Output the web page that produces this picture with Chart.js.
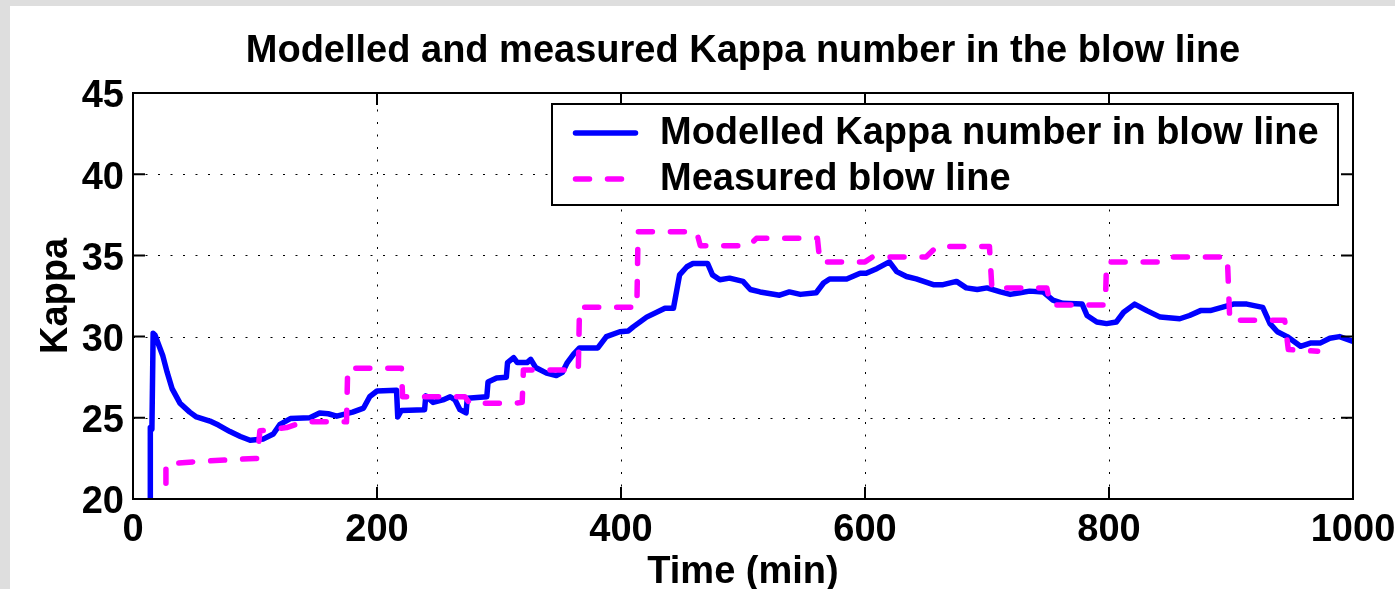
<!DOCTYPE html>
<html>
<head>
<meta charset="utf-8">
<title>Kappa number in the blow line</title>
<script src="https://cdn.jsdelivr.net/npm/chart.js@4.4.0/dist/chart.umd.min.js"></script>
<style>
    html, body { margin: 0; padding: 0; overflow: hidden; background: #dedede; }
    #panel { position: absolute; left: 10px; top: 6px; width: 1385px; height: 600px; background: #fff; }
    canvas { display: block; }
</style>
</head>
<body>
<div id="panel"><canvas id="kappaChart" width="1385" height="600"></canvas></div>
<script>
// --- Data ---
const modelTime = [14, 14.2, 15.5, 16.5, 18, 24.5, 28, 32, 38.5, 46.5, 52, 63, 70, 79.5, 88, 96, 107, 115, 120.5, 129,
    145, 153, 160, 167, 180, 189, 194, 200, 216, 217, 220, 239, 240, 246, 254, 260, 264, 268, 273, 274,
    290, 291, 298, 306, 307, 312, 315, 323, 326, 330, 339, 347, 352, 356, 361, 366, 381, 388, 399, 406,
    410, 421, 436, 443, 448, 454, 459, 471, 475, 481, 489, 500, 506, 514, 530, 538, 547, 560, 566, 571,
    585, 596, 601, 610, 620, 626, 634, 642, 656, 664, 675, 683, 692, 700, 711, 719, 727, 735, 746, 754,
    762, 778, 782, 790, 798, 806, 812, 821, 831, 842, 858, 866, 875, 883, 902, 913, 926, 932, 938, 946,
    957, 965, 973, 981, 989, 1000];
const modelKappa = [19, 24.4, 24.3, 30.2, 30.1, 28.8, 27.8, 26.8, 25.9, 25.35, 25.05, 24.8, 24.55, 24.15, 23.85, 23.62, 23.7, 24.0, 24.6, 24.95,
    25.0, 25.3, 25.25, 25.1, 25.35, 25.6, 26.3, 26.65, 26.7, 25.05, 25.45, 25.5, 26.35, 25.95, 26.1, 26.3, 26.1, 25.5, 25.3, 26.2,
    26.3, 27.2, 27.45, 27.5, 28.4, 28.7, 28.4, 28.4, 28.6, 28.1, 27.75, 27.6, 27.8, 28.4, 28.9, 29.3, 29.3, 30.0, 30.3, 30.35,
    30.6, 31.2, 31.75, 31.75, 33.8, 34.3, 34.5, 34.5, 33.8, 33.5, 33.6, 33.4, 32.9, 32.75, 32.55, 32.75, 32.6, 32.7, 33.3, 33.55,
    33.55, 33.9, 33.9, 34.2, 34.6, 34.0, 33.7, 33.55, 33.2, 33.2, 33.4, 33.0, 32.9, 33.0, 32.75, 32.6, 32.7, 32.8, 32.75, 32.25,
    32.05, 32.0, 31.3, 30.9, 30.8, 30.9, 31.5, 32.0, 31.6, 31.2, 31.1, 31.3, 31.6, 31.6, 32.0, 32.0, 31.8, 30.8, 30.3, 30.0,
    29.4, 29.6, 29.6, 29.9, 30.0, 29.7];

const measTime = [27, 27, 52, 100, 102, 104, 111, 126, 140, 175, 176, 220, 221, 272, 276, 313, 319, 320, 365, 366,
    413, 414, 462, 465, 505, 511, 561, 563, 600, 606, 650, 659, 702, 704, 749, 752, 797, 798, 847, 852,
    897, 899, 944, 947, 971];
const measKappa = [19, 22.15, 22.3, 22.5, 22.5, 24.2, 24.25, 24.4, 24.75, 24.75, 28.05, 28.05, 26.3, 26.3, 25.9, 25.9, 25.95, 27.95, 27.95, 31.8,
    31.8, 36.45, 36.45, 35.6, 35.6, 36.05, 36.05, 34.6, 34.6, 34.9, 34.9, 35.55, 35.55, 33.0, 33.0, 31.95, 31.95, 34.6, 34.6, 34.9,
    34.9, 31.0, 31.0, 29.2, 29.1];

const xTicks = [0, 200, 400, 600, 800, 1000];
const yTicks = [20, 25, 30, 35, 40, 45];
const seriesLabels = ["Modelled Kappa number in blow line", "Measured blow line"];

const TEXT_FONT = "'Liberation Sans', Arial, Helvetica, sans-serif";
const MEAS_DASH = [14, 18];
const LINE_W = 5.5;

function toPoints(xs, ys) {
    return xs.map((x, i) => ({ x: x, y: ys[i] }));
}

// --- Grid, inward ticks and box, drawn through the chart's own scales ---
const axesFrame = {
    id: "axesFrame",
    beforeDatasetsDraw(chart) {
        const { ctx, chartArea: a, scales: { x, y } } = chart;
        ctx.save();
        ctx.strokeStyle = "#000";
        ctx.lineWidth = 1;
        ctx.setLineDash([2, 10.5]);
        xTicks.forEach(v => {
            const px = Math.round(x.getPixelForValue(v)) + 0.5;
            ctx.beginPath(); ctx.moveTo(px, a.bottom); ctx.lineTo(px, a.top); ctx.stroke();
        });
        yTicks.forEach(v => {
            const py = Math.round(y.getPixelForValue(v)) + 0.5;
            ctx.beginPath(); ctx.moveTo(a.left, py); ctx.lineTo(a.right, py); ctx.stroke();
        });
        ctx.restore();
    },
    afterDatasetsDraw(chart) {
        const { ctx, chartArea: a, scales: { x, y } } = chart;
        const len = 12;
        ctx.save();
        ctx.strokeStyle = "#000";
        ctx.lineWidth = 2;
        ctx.beginPath();
        xTicks.forEach(v => {
            const px = x.getPixelForValue(v);
            ctx.moveTo(px, a.bottom); ctx.lineTo(px, a.bottom - len);
            ctx.moveTo(px, a.top); ctx.lineTo(px, a.top + len);
        });
        yTicks.forEach(v => {
            const py = y.getPixelForValue(v);
            ctx.moveTo(a.left, py); ctx.lineTo(a.left + len, py);
            ctx.moveTo(a.right, py); ctx.lineTo(a.right - len, py);
        });
        ctx.stroke();
        ctx.strokeRect(a.left, a.top, a.right - a.left, a.bottom - a.top);
        ctx.restore();
    }
};

// --- Boxed legend in the upper right of the plot ---
const boxLegend = {
    id: "boxLegend",
    afterDraw(chart) {
        const { ctx, chartArea: a } = chart;
        const left = a.left + 419, top = a.top + 11;
        const right = a.right - 15, bottom = top + 101;
        const sets = chart.data.datasets;
        ctx.save();
        ctx.fillStyle = "#fff";
        ctx.fillRect(left, top, right - left, bottom - top);
        ctx.strokeStyle = "#000";
        ctx.lineWidth = 2;
        ctx.strokeRect(left, top, right - left, bottom - top);

        const rows = [top + 29, top + 75];
        sets.forEach((ds, i) => {
            const ry = rows[i];
            ctx.strokeStyle = ds.borderColor;
            ctx.lineWidth = LINE_W;
            ctx.lineCap = "round";
            ctx.setLineDash(ds.borderDash || []);
            ctx.beginPath();
            ctx.moveTo(left + 23.5, ry);
            ctx.lineTo(left + 83.5, ry);
            ctx.stroke();
            ctx.setLineDash([]);
            ctx.fillStyle = "#000";
            ctx.font = "bold 38px " + TEXT_FONT;
            ctx.textAlign = "left";
            ctx.textBaseline = "middle";
            ctx.fillText(ds.label, left + 108, ry + 1);
        });
        ctx.restore();
    }
};

document.addEventListener("DOMContentLoaded", () => {
    const ctx = document.getElementById("kappaChart");
    const bigFont = { family: TEXT_FONT, size: 38, weight: "bold", lineHeight: 1.2 };

    new Chart(ctx, {
        type: "line",
        data: {
            datasets: [
                {
                    label: seriesLabels[0],
                    data: toPoints(modelTime, modelKappa),
                    borderColor: "#0000ff",
                    borderWidth: LINE_W,
                    borderJoinStyle: "round",
                    borderCapStyle: "round",
                    pointRadius: 0,
                    tension: 0,
                    fill: false,
                    clip: 0,
                    order: 1
                },
                {
                    label: seriesLabels[1],
                    data: toPoints(measTime, measKappa),
                    borderColor: "#ff00ff",
                    borderWidth: LINE_W,
                    borderDash: MEAS_DASH,
                    borderJoinStyle: "round",
                    borderCapStyle: "round",
                    pointRadius: 0,
                    tension: 0,
                    fill: false,
                    clip: 0,
                    order: 0
                }
            ]
        },
        options: {
            responsive: false,
            devicePixelRatio: 1,
            animation: false,
            events: [],
            layout: { padding: { left: 0, right: 42, top: 0, bottom: 0 } },
            plugins: {
                legend: { display: false },
                tooltip: { enabled: false },
                title: {
                    display: true,
                    fullSize: false,
                    text: "Modelled and measured Kappa number in the blow line",
                    color: "#000",
                    font: bigFont,
                    padding: { top: 22.7, bottom: 18.7 }
                }
            },
            scales: {
                x: {
                    type: "linear",
                    min: xTicks[0],
                    max: xTicks[xTicks.length - 1],
                    afterBuildTicks: s => { s.ticks = xTicks.map(v => ({ value: v })); },
                    afterFit: s => { s.height = 107; s.paddingLeft = 0; s.paddingRight = 0; },
                    grid: { display: false, drawTicks: false },
                    border: { display: false },
                    ticks: {
                        color: "#000",
                        font: bigFont,
                        padding: 9,
                        maxRotation: 0,
                        autoSkip: false,
                        callback: v => String(v)
                    },
                    title: {
                        display: true,
                        text: "Time (min)",
                        color: "#000",
                        font: bigFont,
                        padding: { top: 0, bottom: 10.5 }
                    }
                },
                y: {
                    type: "linear",
                    min: yTicks[0],
                    max: yTicks[yTicks.length - 1],
                    afterBuildTicks: s => { s.ticks = yTicks.map(v => ({ value: v })); },
                    afterFit: s => { s.width = 123; s.paddingTop = 0; s.paddingBottom = 0; },
                    grid: { display: false, drawTicks: false },
                    border: { display: false },
                    ticks: {
                        color: "#000",
                        font: bigFont,
                        padding: 9,
                        labelOffset: 4,
                        autoSkip: false,
                        callback: v => String(v)
                    },
                    title: {
                        display: true,
                        text: "Kappa",
                        color: "#000",
                        font: bigFont,
                        padding: { top: 24, bottom: 0 }
                    }
                }
            }
        },
        plugins: [axesFrame, boxLegend]
    });
});
</script>
</body>
</html>
